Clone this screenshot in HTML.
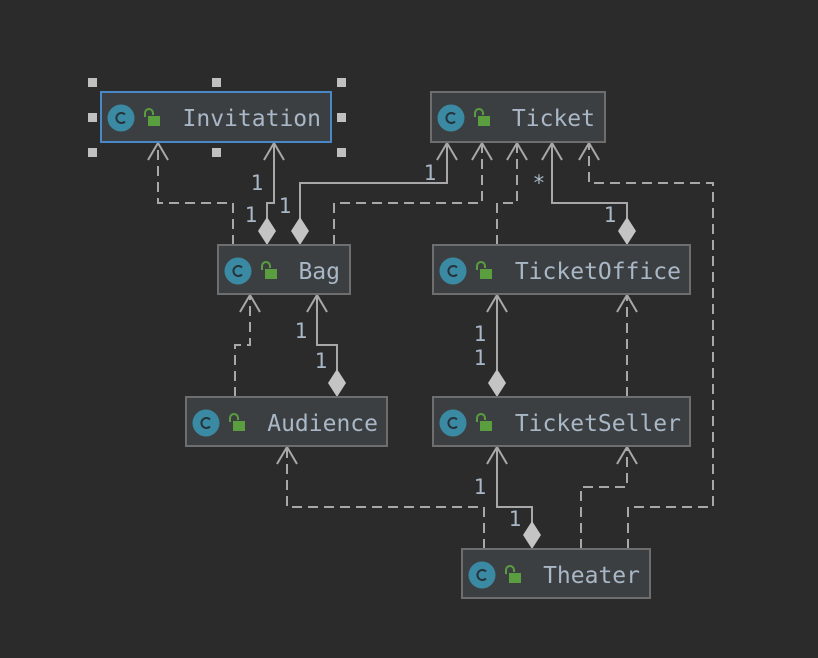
<!DOCTYPE html>
<html><head><meta charset="utf-8"><style>
html,body{margin:0;padding:0;background:#2b2b2b;}
svg{display:block;}
text{font-family:"DejaVu Sans Mono","Liberation Mono",monospace;}
</style></head><body>
<svg width="818" height="658" viewBox="0 0 818 658" xmlns="http://www.w3.org/2000/svg">
<defs>
<g id="ic">
  <circle cx="0" cy="0" r="13.5" fill="#3b8aa3"/>
  <path d="M4,-3.5 A5,5 0 1 0 4,3.5" fill="none" stroke="#25343b" stroke-width="2"/>
  <path d="M24,-1 L24,-5 A4,4 0 0 1 32,-5 L32,-3" fill="none" stroke="#5a9e3f" stroke-width="2"/>
  <rect x="27" y="-2" width="12" height="10" fill="#5a9e3f"/>
</g>
</defs>
<rect width="818" height="658" fill="#2b2b2b"/>

<g fill="none" stroke="#a8a8a8" stroke-width="2">
  <g stroke-dasharray="10,6">
    <polyline points="233,245 233,203 158,203 158,143"/>
    <polyline points="334,245 334,203 482,203 482,143"/>
    <polyline points="497,245 497,203 517,203 517,143"/>
    <polyline points="628,549 628,507 713,507 713,183 589,183 589,143"/>
    <polyline points="235,397 235,345 250,345 250,295"/>
    <polyline points="627,397 627,295"/>
    <polyline points="484,549 484,507 287,507 287,447"/>
    <polyline points="581,549 581,487 627,487 627,447"/>
  </g>
  <polyline points="267,218 267,203 274,203 274,143"/>
  <polyline points="300,218 300,183 447,183 447,143"/>
  <polyline points="627,218 627,203 552,203 552,143"/>
  <polyline points="337,370 337,345 317,345 317,295"/>
  <polyline points="497,370 497,295"/>
  <polyline points="532,522 532,507 497,507 497,447"/>
  <g stroke-width="2">
    <polyline points="148,160 158,143 168,160"/>
    <polyline points="264,160 274,143 284,160"/>
    <polyline points="437,160 447,143 457,160"/>
    <polyline points="472,160 482,143 492,160"/>
    <polyline points="507,160 517,143 527,160"/>
    <polyline points="542,160 552,143 562,160"/>
    <polyline points="579,160 589,143 599,160"/>
    <polyline points="240,312 250,295 260,312"/>
    <polyline points="307,312 317,295 327,312"/>
    <polyline points="487,312 497,295 507,312"/>
    <polyline points="617,312 627,295 637,312"/>
    <polyline points="277,464 287,447 297,464"/>
    <polyline points="487,464 497,447 507,464"/>
    <polyline points="617,464 627,447 637,464"/>
  </g>
</g>
<g fill="#c4c4c4">
  <polygon points="267,217 276,231 267,245 258,231"/>
  <polygon points="300,217 309,231 300,245 291,231"/>
  <polygon points="627,217 636,231 627,245 618,231"/>
  <polygon points="337,369 346,383 337,397 328,383"/>
  <polygon points="497,369 506,383 497,397 488,383"/>
  <polygon points="532,521 541,535 532,549 523,535"/>
</g>
<g fill="#a9b7c6" font-size="21" text-anchor="middle">
  <text x="257" y="190">1</text>
  <text x="251" y="222">1</text>
  <text x="285" y="213">1</text>
  <text x="430" y="180">1</text>
  <text x="539" y="190">*</text>
  <text x="610" y="222">1</text>
  <text x="301" y="338">1</text>
  <text x="321" y="368">1</text>
  <text x="480" y="341">1</text>
  <text x="480" y="365">1</text>
  <text x="480" y="494">1</text>
  <text x="515" y="526">1</text>
</g>

<g fill="#c0c0c0">
  <rect x="88" y="78" width="9" height="9"/>
  <rect x="212" y="78" width="9" height="9"/>
  <rect x="337" y="78" width="9" height="9"/>
  <rect x="88" y="113" width="9" height="9"/>
  <rect x="337" y="113" width="9" height="9"/>
  <rect x="88" y="148" width="9" height="9"/>
  <rect x="212" y="148" width="9" height="9"/>
  <rect x="337" y="148" width="9" height="9"/>
</g>

<g stroke-width="2" fill="#3c3f41">
  <rect x="101" y="92" width="230" height="50" stroke="#4a88c7"/>
  <rect x="431" y="92" width="174" height="50" stroke="#6e6e6e"/>
  <rect x="218" y="245" width="132" height="49" stroke="#6e6e6e"/>
  <rect x="433" y="245" width="257" height="49" stroke="#6e6e6e"/>
  <rect x="186" y="397" width="201" height="49" stroke="#6e6e6e"/>
  <rect x="433" y="397" width="257" height="49" stroke="#6e6e6e"/>
  <rect x="462" y="549" width="188" height="49" stroke="#6e6e6e"/>
</g>
<use href="#ic" x="121" y="118"/>
<use href="#ic" x="451" y="118"/>
<use href="#ic" x="238" y="271"/>
<use href="#ic" x="453" y="271"/>
<use href="#ic" x="206" y="423"/>
<use href="#ic" x="453" y="423"/>
<use href="#ic" x="482" y="575"/>
<g fill="#a9b7c6" font-size="23" text-anchor="end">
  <text x="321" y="126">Invitation</text>
  <text x="595" y="126">Ticket</text>
  <text x="340" y="279">Bag</text>
  <text x="681" y="279">TicketOffice</text>
  <text x="378" y="431">Audience</text>
  <text x="681" y="431">TicketSeller</text>
  <text x="640" y="583">Theater</text>
</g>
</svg>
</body></html>
